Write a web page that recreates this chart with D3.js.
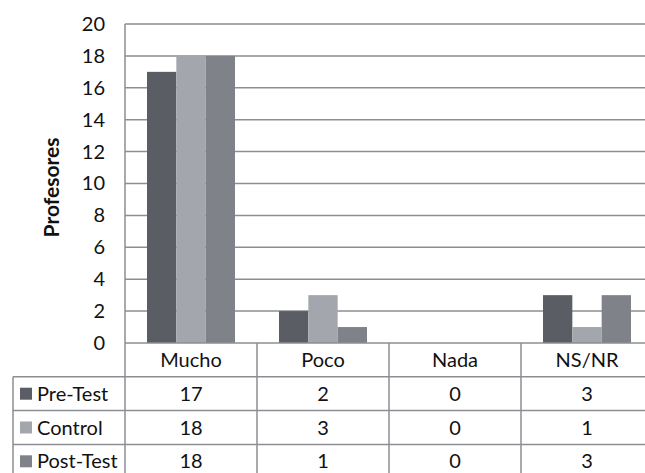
<!DOCTYPE html>
<html>
<head>
<meta charset="utf-8">
<script src="https://cdn.jsdelivr.net/npm/d3@7"></script>
<style>
  html, body { margin: 0; padding: 0; background: #fff; }
  svg { display: block; }
  text { font-family: Lato, "Open Sans", sans-serif; fill: #111; }
</style>
</head>
<body>
<svg id="chart" width="645" height="473"></svg>
<script>
// Respuestas de profesores por categoría
const categories = ["Mucho", "Poco", "Nada", "NS/NR"];
const seriesNames = ["Pre-Test", "Control", "Post-Test"];
const preTest = [17, 2, 0, 3];
const control = [18, 3, 0, 1];
const postTest = [18, 1, 0, 3];
const yTicks = [0, 2, 4, 6, 8, 10, 12, 14, 16, 18, 20];
const yLabel = "Profesores";

const seriesValues = [preTest, control, postTest];
const colors = ["#5a5d64", "#a3a6ad", "#7f8289"];

const svg = d3.select("#chart");
const plotLeft = 125, plotRight = 653, plotTop = 24, plotBottom = 343;
const tableLeft = 13, rowH = 33.8, tableBottom = 473;
const fs = "20px";

const x = d3.scaleBand().domain(categories).range([plotLeft, plotRight]);
const xs = d3.scaleBand().domain(seriesNames)
  .range([0, x.bandwidth()]).paddingOuter(0.75).paddingInner(0);
const y = d3.scaleLinear().domain([0, 20]).range([plotBottom, plotTop]);

const lineCol = "#8c8e93";

// horizontal gridlines
svg.append("g").selectAll("line").data(yTicks.filter(d => d > 0)).join("line")
  .attr("x1", plotLeft).attr("x2", plotRight)
  .attr("y1", d => y(d)).attr("y2", d => y(d))
  .attr("stroke", lineCol).attr("stroke-width", 1.5);

// bars
const groups = svg.append("g").selectAll("g").data(seriesNames).join("g")
  .attr("fill", (d, i) => colors[i]);
groups.selectAll("rect")
  .data((s, i) => categories.map((c, j) => ({ c, s, v: seriesValues[i][j] })))
  .join("rect")
  .attr("x", d => x(d.c) + xs(d.s))
  .attr("width", xs.bandwidth())
  .attr("y", d => y(d.v))
  .attr("height", d => y(0) - y(d.v));

// y axis labels
const yAxis = d3.axisLeft(y).tickValues(yTicks).tickSize(0).tickPadding(20);
const ya = svg.append("g").attr("transform", `translate(${plotLeft},0)`).call(yAxis);
ya.select(".domain").remove();
ya.selectAll("text").style("font-family", "Lato, sans-serif").style("font-size", fs).attr("fill", "#111");

svg.append("text")
  .attr("transform", `translate(59,${(plotTop + plotBottom) / 2 + 4}) rotate(-90)`)
  .attr("text-anchor", "middle")
  .style("font-size", "21px").style("font-weight", "bold")
  .text(yLabel);

// data table lines
const rowYs = [plotBottom, plotBottom + rowH, plotBottom + 2 * rowH, plotBottom + 3 * rowH];
const tl = svg.append("g").attr("stroke", lineCol).attr("stroke-width", 1.5);
tl.append("line").attr("x1", plotLeft).attr("x2", plotRight).attr("y1", plotBottom).attr("y2", plotBottom);
rowYs.slice(1).forEach(ry => {
  tl.append("line").attr("x1", tableLeft).attr("x2", plotRight).attr("y1", ry).attr("y2", ry);
});
tl.append("line").attr("x1", plotLeft).attr("x2", plotLeft).attr("y1", plotTop).attr("y2", tableBottom);
tl.append("line").attr("x1", tableLeft).attr("x2", tableLeft).attr("y1", rowYs[1]).attr("y2", tableBottom);
categories.slice(1).forEach(c => {
  tl.append("line").attr("x1", x(c)).attr("x2", x(c)).attr("y1", plotBottom).attr("y2", tableBottom);
});

// category header
svg.append("g").selectAll("text").data(categories).join("text")
  .attr("x", d => x(d) + x.bandwidth() / 2)
  .attr("y", plotBottom + rowH / 2 + 7)
  .attr("text-anchor", "middle")
  .style("font-size", fs)
  .text(d => d);

// series rows
seriesNames.forEach((s, i) => {
  const cy = rowYs[i + 1] + rowH / 2;
  svg.append("rect").attr("x", 20).attr("y", cy - 6).attr("width", 12).attr("height", 12).attr("fill", colors[i]);
  svg.append("text").attr("x", 37).attr("y", cy + 7).style("font-size", fs).text(s);
  svg.append("g").selectAll("text").data(categories).join("text")
    .attr("x", d => x(d) + x.bandwidth() / 2)
    .attr("y", cy + 7)
    .attr("text-anchor", "middle")
    .style("font-size", fs)
    .text((d, j) => seriesValues[i][j]);
});
</script>
</body>
</html>
